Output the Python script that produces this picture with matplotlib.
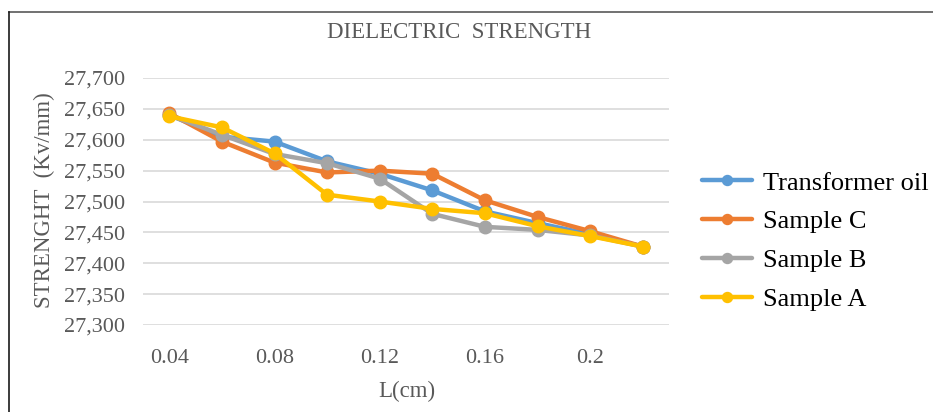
import matplotlib.pyplot as plt
from matplotlib.ticker import FuncFormatter
from matplotlib.lines import Line2D

# Chart data
lengths = ["0.04", "0.06", "0.08", "0.10", "0.12", "0.14", "0.16", "0.18", "0.2", "0.22"]
tick_labels = ["0.04", "", "0.08", "", "0.12", "", "0.16", "", "0.2", ""]
transformer_oil = [27640, 27605, 27597, 27565, 27545, 27518, 27484, 27465, 27447, 27427]
sample_c = [27643, 27597, 27563, 27547, 27550, 27545, 27502, 27475, 27452, 27427]
sample_b = [27640, 27608, 27577, 27562, 27537, 27480, 27459, 27454, 27445, 27427]
sample_a = [27638, 27620, 27578, 27511, 27500, 27488, 27481, 27460, 27444, 27427]
y_ticks = [27300, 27350, 27400, 27450, 27500, 27550, 27600, 27650, 27700]

series = [
    ("Transformer oil", transformer_oil, "#5B9BD5"),
    ("Sample C", sample_c, "#ED7D31"),
    ("Sample B", sample_b, "#A5A5A5"),
    ("Sample A", sample_a, "#FFC000"),
]

plt.rcParams['font.family'] = ['Liberation Serif', 'DejaVu Serif']

W, H = 933, 412
fig = plt.figure(figsize=(W / 100, H / 100), dpi=100)

# outer frame (cut off on right and bottom in the reference)
fig.add_artist(Line2D([9 / W, 1.2], [1 - 12 / H, 1 - 12 / H], color="#595959", lw=1.2))
fig.add_artist(Line2D([9 / W, 9 / W], [1 - 12 / H, -0.2], color="#1a1a1a", lw=1.2))

ax = fig.add_axes([143 / W, (H - 325) / H, (669 - 143) / W, (325 - 78) / H])
x = list(range(len(lengths)))
for name, vals, col in series:
    ax.plot(x, vals, color=col, lw=3.2, marker="o", markersize=9, label=name,
            solid_capstyle="round", zorder=3)

ax.set_xlim(-0.5, len(lengths) - 0.5)
ax.set_ylim(27300, 27700)
ax.set_yticks(y_ticks)
ax.yaxis.set_major_formatter(FuncFormatter(lambda v, p: f"{int(v):,}"))
ax.set_xticks(x)
ax.set_xticklabels(tick_labels)
ax.grid(axis="y", color="#D9D9D9", lw=1.2)
ax.set_axisbelow(True)
for s in ax.spines.values():
    s.set_visible(False)
ax.tick_params(axis="both", length=0, colors="#595959", labelsize=16)
ax.tick_params(axis="y", pad=13)
ax.tick_params(axis="x", pad=17)

fig.text(459 / W, 1 - 33 / H, "DIELECTRIC  STRENGTH", ha="center", va="center",
         fontsize=16.5, color="#595959")
fig.text(44 / W, 1 - 200 / H, "STRENGHT  (Kv/mm)", ha="center", va="center",
         rotation=90, fontsize=16.5, color="#595959")
fig.text(407 / W, 1 - 391 / H, "L(cm)", ha="center", va="center",
         fontsize=16.5, color="#595959")

fig.legend(loc="center left", bbox_to_anchor=(702 / W, 1 - 241 / H), frameon=False,
           fontsize=19, handlelength=1.9, handletextpad=0.4, labelspacing=0.58,
           markerscale=0.8, borderaxespad=0, borderpad=0)

plt.savefig("out.png", dpi=100)
